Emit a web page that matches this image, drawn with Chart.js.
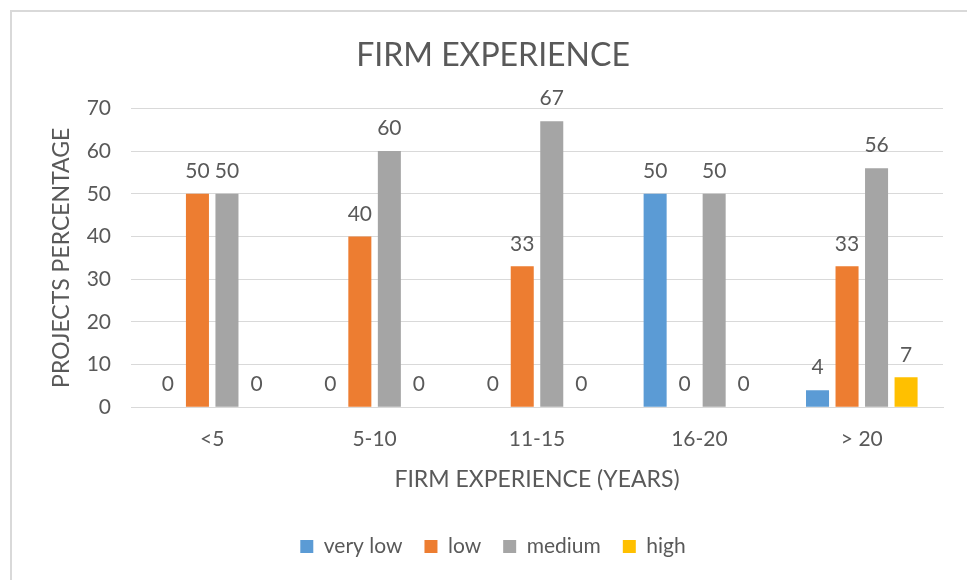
<!DOCTYPE html>
<html>
<head>
<meta charset="utf-8">
<script src="https://cdn.jsdelivr.net/npm/chart.js@4"></script>
<style>
  html, body { margin: 0; padding: 0; background: #fff; }
  #wrap { position: relative; width: 967px; height: 580px; }
  #frame {
    position: absolute; left: 10px; top: 10px; right: 0; bottom: 0;
    border-top: 2px solid #d9d9d9; border-left: 2px solid #d9d9d9;
    pointer-events: none;
  }
</style>
</head>
<body>
<div id="wrap">
  <canvas id="myChart" width="967" height="580"></canvas>
  <div id="frame"></div>
</div>
<script>
const categories = ['<5', '5-10', '11-15', '16-20', '> 20'];
const veryLow = [0, 0, 0, 50, 4];
const low = [50, 40, 33, 0, 33];
const medium = [50, 60, 67, 50, 56];
const high = [0, 0, 0, 0, 7];

const textColor = '#595959';
const fontFamily = 'Lato, "Open Sans", sans-serif';

// prints each bar's value just above it
const valueLabels = {
    id: 'valueLabels',
    afterDatasetsDraw(chart) {
        const ctx = chart.ctx;
        ctx.save();
        ctx.font = '21px ' + fontFamily;
        ctx.fillStyle = textColor;
        ctx.textAlign = 'center';
        ctx.textBaseline = 'bottom';
        chart.data.datasets.forEach((ds, i) => {
            chart.getDatasetMeta(i).data.forEach((bar, j) => {
                ctx.fillText(String(ds.data[j]), bar.x, bar.y - 12);
            });
        });
        ctx.restore();
    }
};

let ctx = document.getElementById('myChart').getContext('2d');
let myChart = new Chart(ctx, {
    type: 'bar',
    data: {
        labels: categories,
        datasets: [
            { label: 'very low', data: veryLow, backgroundColor: '#5B9BD5' },
            { label: 'low', data: low, backgroundColor: '#ED7D31' },
            { label: 'medium', data: medium, backgroundColor: '#A5A5A5' },
            { label: 'high', data: high, backgroundColor: '#FFC000' }
        ]
    },
    options: {
        responsive: false,
        animation: false,
        categoryPercentage: 0.727,
        barPercentage: 0.78,
        layout: { padding: { top: 36, left: 43, right: 24, bottom: 13 } },
        plugins: {
            title: {
                display: true,
                text: 'FIRM EXPERIENCE',
                color: textColor,
                font: { family: fontFamily, size: 32, weight: 'normal' },
                padding: { top: 0, bottom: 34 }
            },
            legend: {
                position: 'bottom',
                labels: {
                    color: textColor,
                    font: { family: fontFamily, size: 21 },
                    boxWidth: 13,
                    boxHeight: 13,
                    padding: 22
                }
            },
            tooltip: { enabled: false }
        },
        scales: {
            x: {
                grid: { display: false },
                border: { color: '#d9d9d9' },
                ticks: { color: textColor, font: { family: fontFamily, size: 21 }, padding: 11 },
                title: {
                    display: true,
                    text: 'FIRM EXPERIENCE (YEARS)',
                    color: textColor,
                    font: { family: fontFamily, size: 23 },
                    padding: { top: 3, bottom: 21 }
                }
            },
            y: {
                min: 0,
                max: 70,
                afterFit(scale) { scale.width = 88; },
                ticks: { stepSize: 10, color: textColor, font: { family: fontFamily, size: 21 }, padding: 20 },
                grid: { color: '#d9d9d9', drawTicks: false },
                border: { display: false },
                title: {
                    display: true,
                    text: 'PROJECTS PERCENTAGE',
                    color: textColor,
                    font: { family: fontFamily, size: 23 },
                    padding: { top: 5, bottom: 0 }
                }
            }
        }
    },
    plugins: [valueLabels]
});
</script>
</body>
</html>
